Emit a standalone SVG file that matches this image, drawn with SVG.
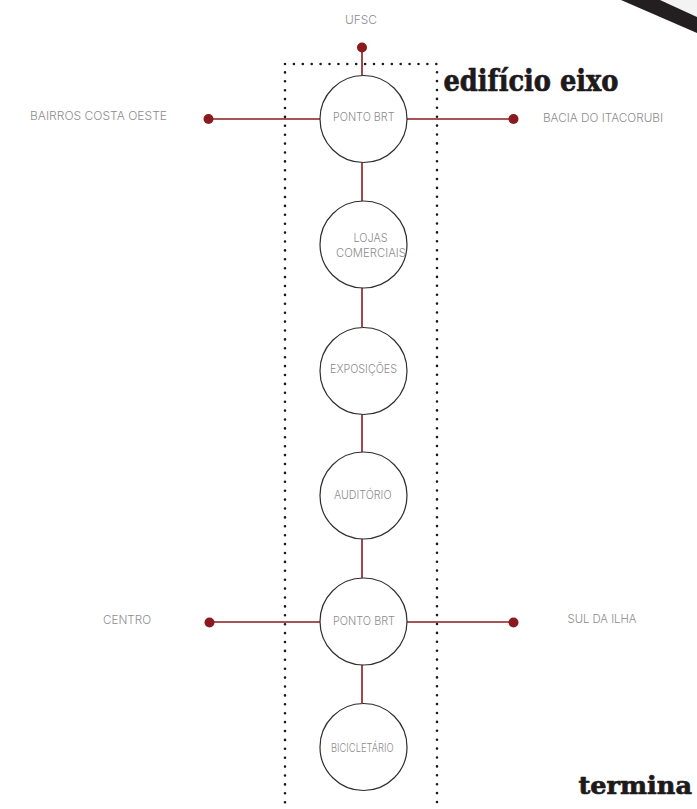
<svg xmlns="http://www.w3.org/2000/svg" width="697" height="809" viewBox="0 0 697 809">
<style>
.lbl{font-family:Inter,"Liberation Sans",Arial,sans-serif;font-weight:300;font-size:11.5px;fill:#8c8c8c;}
.node circle{fill:#fff;stroke:#2e2e2e;stroke-width:1.2;}
.conn line{stroke:#8b1a1f;stroke-width:1.6;}
.conn circle{fill:#8b1a1f;}
.title{font-family:"DejaVu Serif","Liberation Serif",serif;font-weight:bold;fill:#1e1a1b;stroke:#1e1a1b;stroke-width:0.7;stroke-linejoin:round;}
</style>
<rect width="697" height="809" fill="#fff"/>
<polygon points="660,0 697,0 697,17" fill="#f3f3f3"/>
<polygon points="621,0 660,0 697,17 697,33" fill="#231f20"/>
<rect x="285" y="64" width="152" height="760" fill="none" stroke="#1a1a1a" stroke-width="2.6" stroke-linecap="round" stroke-dasharray="0 8.9"/>
<g id="connectors" class="conn">
<line x1="362" y1="48" x2="362" y2="76"/>
<line x1="208" y1="119" x2="320" y2="119"/>
<line x1="407" y1="119" x2="513" y2="119"/>
<line x1="362" y1="162" x2="362" y2="201"/>
<line x1="362" y1="288" x2="362" y2="327"/>
<line x1="362" y1="414" x2="362" y2="452"/>
<line x1="362" y1="539" x2="362" y2="578"/>
<line x1="209" y1="622" x2="320" y2="622"/>
<line x1="407" y1="622" x2="513" y2="622"/>
<line x1="362" y1="665" x2="362" y2="703"/>
<circle cx="362" cy="47.5" r="5"/>
<circle cx="208.5" cy="119" r="5"/>
<circle cx="513.5" cy="119" r="5"/>
<circle cx="209.5" cy="622.5" r="5"/>
<circle cx="513.5" cy="622.5" r="5"/>
</g>
<g id="ufsc"><text class="lbl" x="361" y="24" text-anchor="middle" textLength="32" lengthAdjust="spacingAndGlyphs">UFSC</text></g>
<g id="bairros"><text class="lbl" x="30" y="120" textLength="137" lengthAdjust="spacingAndGlyphs">BAIRROS COSTA OESTE</text></g>
<g id="bacia"><text class="lbl" x="543" y="121.5" textLength="120" lengthAdjust="spacingAndGlyphs">BACIA DO ITACORUBI</text></g>
<g id="centro"><text class="lbl" x="103" y="624" textLength="48" lengthAdjust="spacingAndGlyphs">CENTRO</text></g>
<g id="sul"><text class="lbl" x="567.5" y="622.5" textLength="69" lengthAdjust="spacingAndGlyphs">SUL DA ILHA</text></g>
<g id="n1" class="node"><circle cx="363.5" cy="119" r="43.5"/><text class="lbl" x="333" y="120.7" textLength="61.5" lengthAdjust="spacingAndGlyphs">PONTO BRT</text></g>
<g id="n2" class="node"><circle cx="363.5" cy="244.5" r="43.5"/><text class="lbl" x="353.5" y="241.7" textLength="34" lengthAdjust="spacingAndGlyphs">LOJAS</text><text class="lbl" x="336" y="256.7" textLength="70" lengthAdjust="spacingAndGlyphs">COMERCIAIS</text></g>
<g id="n3" class="node"><circle cx="363.5" cy="371" r="43.5"/><text class="lbl" x="330" y="373.3" textLength="67" lengthAdjust="spacingAndGlyphs">EXPOSIÇÕES</text></g>
<g id="n4" class="node"><circle cx="363.5" cy="495.5" r="43.5"/><text class="lbl" x="334" y="498.5" textLength="57.5" lengthAdjust="spacingAndGlyphs">AUDITÓRIO</text></g>
<g id="n5" class="node"><circle cx="363.5" cy="621.5" r="43.5"/><text class="lbl" x="333" y="625" textLength="62" lengthAdjust="spacingAndGlyphs">PONTO BRT</text></g>
<g id="n6" class="node"><circle cx="363.5" cy="747" r="43.5"/><text class="lbl" x="331" y="751.5" textLength="62.5" lengthAdjust="spacingAndGlyphs">BICICLETÁRIO</text></g>
<text class="title" x="443.5" y="91" font-size="29" textLength="175" lengthAdjust="spacingAndGlyphs">edifício eixo</text>
<text class="title" x="578.5" y="794" font-size="24" textLength="113.5" lengthAdjust="spacingAndGlyphs">termina</text>
</svg>
